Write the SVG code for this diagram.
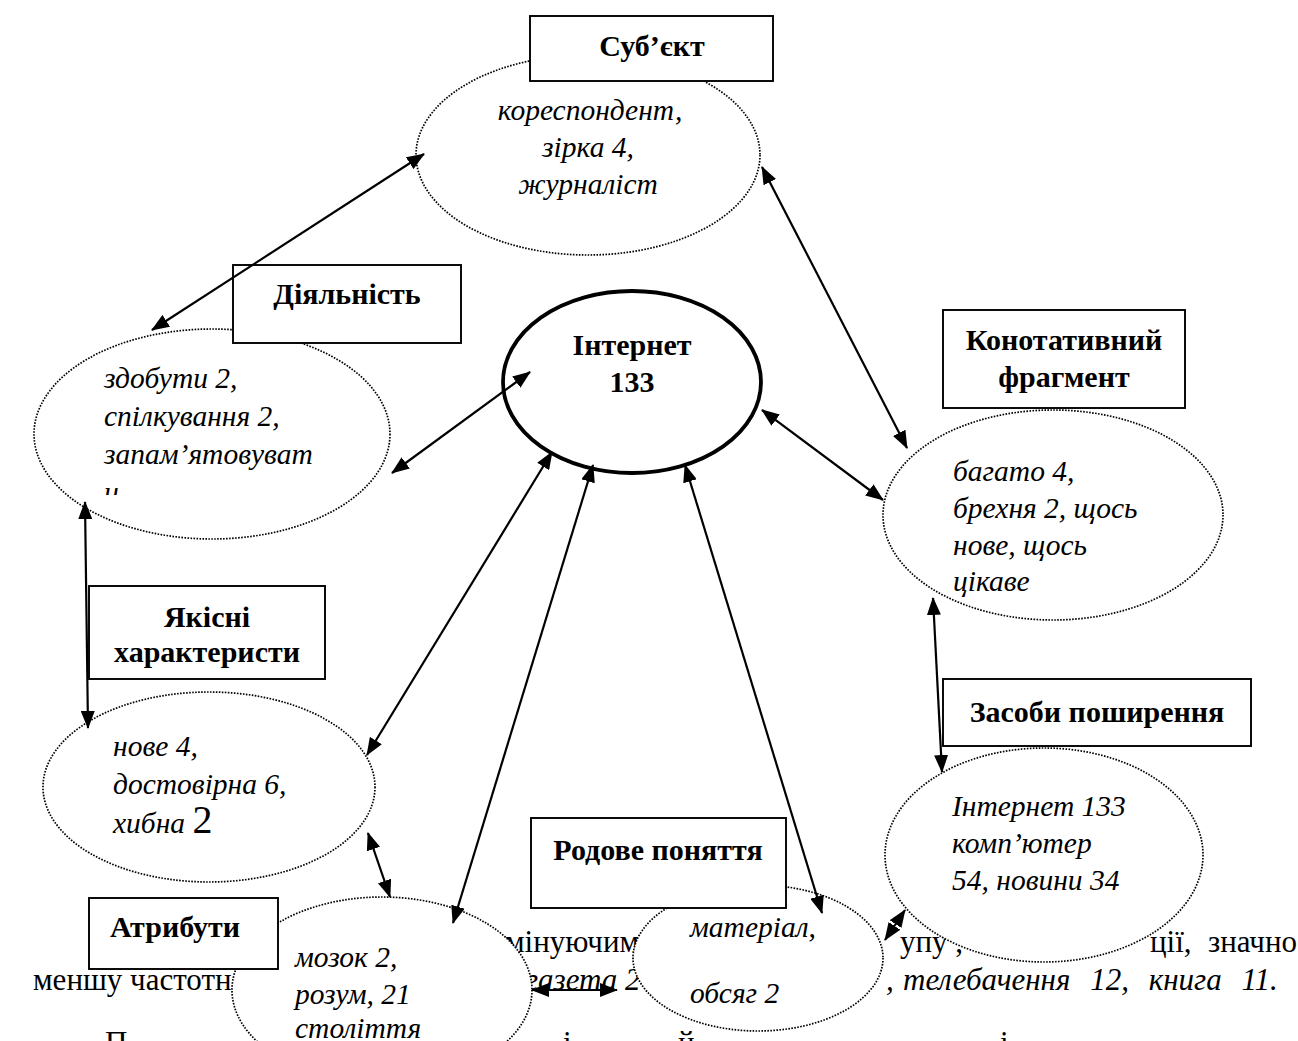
<svg xmlns="http://www.w3.org/2000/svg" width="1298" height="1041" viewBox="0 0 1298 1041">
<defs>
<style>
.body{font-family:"Liberation Serif","DejaVu Serif",serif;font-size:31px;fill:#000}
.it{font-style:italic}
.ell{fill:#fff;stroke:#000;stroke-width:1.7;stroke-dasharray:1.6 1.4}
.main{fill:#fff;stroke:#000;stroke-width:3.8}
.box{fill:#fff;stroke:#000;stroke-width:1.9}
.lbl{font-family:"Liberation Serif","DejaVu Serif",serif;font-size:30px;font-weight:bold;text-anchor:middle;fill:#000}
.itx{font-family:"Liberation Serif","DejaVu Serif",serif;font-size:29.5px;font-style:italic;fill:#000}
.mid{text-anchor:middle}
.conn line{stroke:#000;stroke-width:2.2;marker-start:url(#ah);marker-end:url(#ah)}
</style>
<marker id="ah" viewBox="0 0 18 14" refX="17" refY="7" markerWidth="18" markerHeight="14" markerUnits="userSpaceOnUse" orient="auto-start-reverse"><path d="M0,0 L18,7 L0,14 z" fill="#000"/></marker>
<clipPath id="clipD"><rect x="0" y="0" width="1298" height="495"/></clipPath>
</defs>
<rect width="1298" height="1041" fill="#fff"/>
<g id="body-text" class="body">
<text x="505" y="952">мінуючим</text>
<text x="900" y="952">упу ,</text>
<text x="1150" y="952">ції,</text>
<text x="1208" y="952">значно</text>
<text x="33" y="990">меншу частотн</text>
<text x="526" y="990" class="it">газета 2</text>
<text x="886" y="990" class="it">,</text>
<text x="903" y="990" class="it" word-spacing="12">телебачення 12, книга 11.</text>
<text x="105" y="1053">П</text>
<text x="563" y="1053">і</text>
<text x="678" y="1053">й</text>
<text x="1000" y="1053">і</text>
</g>
<g id="node-subject">
<ellipse class="ell" cx="588" cy="155" rx="172" ry="100"/>
<text class="itx mid" x="590" y="120">кореспондент,</text>
<text class="itx mid" x="588" y="157">зірка 4,</text>
<text class="itx mid" x="588" y="194">журналіст</text>
<rect class="box" x="530" y="16" width="243" height="65"/>
<text class="lbl" x="652" y="56">Суб’єкт</text>
</g>
<g id="node-activity">
<ellipse class="ell" cx="212" cy="434" rx="178" ry="105"/>
<text class="itx" x="104" y="388">здобути 2,</text>
<text class="itx" x="104" y="426">спілкування 2,</text>
<text class="itx" x="104" y="464">запам’ятовуват</text>
<text class="itx" x="104" y="502" clip-path="url(#clipD)">и</text>
<rect class="box" x="233" y="265" width="228" height="78"/>
<text class="lbl" x="347" y="304">Діяльність</text>
</g>
<g id="node-internet">
<ellipse class="main" cx="632" cy="382" rx="129" ry="91"/>
<text class="lbl" x="632" y="355">Інтернет</text>
<text class="lbl" x="632" y="392">133</text>
</g>
<g id="node-connotative">
<ellipse class="ell" cx="1053" cy="515" rx="170" ry="105"/>
<text class="itx" x="953" y="481">багато 4,</text>
<text class="itx" x="953" y="518">брехня 2, щось</text>
<text class="itx" x="953" y="555">нове, щось</text>
<text class="itx" x="953" y="591">цікаве</text>
<rect class="box" x="943" y="310" width="242" height="98"/>
<text class="lbl" x="1064" y="350">Конотативний</text>
<text class="lbl" x="1064" y="387">фрагмент</text>
</g>
<g id="node-quality">
<ellipse class="ell" cx="209" cy="787" rx="166" ry="95"/>
<text class="itx" x="113" y="756">нове 4,</text>
<text class="itx" x="113" y="794">достовірна 6,</text>
<text class="itx" x="113" y="833">хибна <tspan font-style="normal" font-size="40">2</tspan></text>
<rect class="box" x="89" y="586" width="236" height="93"/>
<text class="lbl" x="207" y="627">Якісні</text>
<text class="lbl" x="207" y="662">характеристи</text>
</g>
<g id="node-media">
<ellipse class="ell" cx="1044" cy="855" rx="159" ry="107"/>
<text class="itx" x="952" y="816">Інтернет 133</text>
<text class="itx" x="952" y="853">комп’ютер</text>
<text class="itx" x="952" y="890">54, новини 34</text>
<rect class="box" x="943" y="679" width="308" height="67"/>
<text class="lbl" x="1097" y="722">Засоби поширення</text>
</g>
<g id="node-attributes">
<ellipse class="ell" cx="382" cy="990" rx="150" ry="93"/>
<text class="itx" x="295" y="967">мозок 2,</text>
<text class="itx" x="295" y="1004">розум, 21</text>
<text class="itx" x="295" y="1038">століття</text>
<rect class="box" x="89" y="898" width="189" height="71"/>
<text class="lbl" x="175" y="937">Атрибути</text>
</g>
<g id="node-generic">
<ellipse class="ell" cx="758" cy="958" rx="125" ry="73"/>
<text class="itx" x="690" y="937">матеріал,</text>
<text class="itx" x="690" y="1003">обсяг 2</text>
<rect class="box" x="531" y="818" width="255" height="90"/>
<text class="lbl" x="658" y="860">Родове поняття</text>
</g>
<g id="connectors" class="conn">
<line x1="424" y1="154" x2="152" y2="330"/>
<line x1="762" y1="167" x2="907" y2="448"/>
<line x1="530" y1="372" x2="392" y2="473"/>
<line x1="762" y1="410" x2="883" y2="500"/>
<line x1="85" y1="502" x2="88" y2="728"/>
<line x1="552" y1="452" x2="367" y2="755"/>
<line x1="593" y1="465" x2="453" y2="923"/>
<line x1="685" y1="465" x2="822" y2="913"/>
<line x1="368" y1="833" x2="390" y2="897"/>
<line x1="532" y1="990" x2="617" y2="990"/>
<line x1="905" y1="910" x2="885" y2="940"/>
<line x1="933" y1="598" x2="942" y2="772"/>
</g>
</svg>
